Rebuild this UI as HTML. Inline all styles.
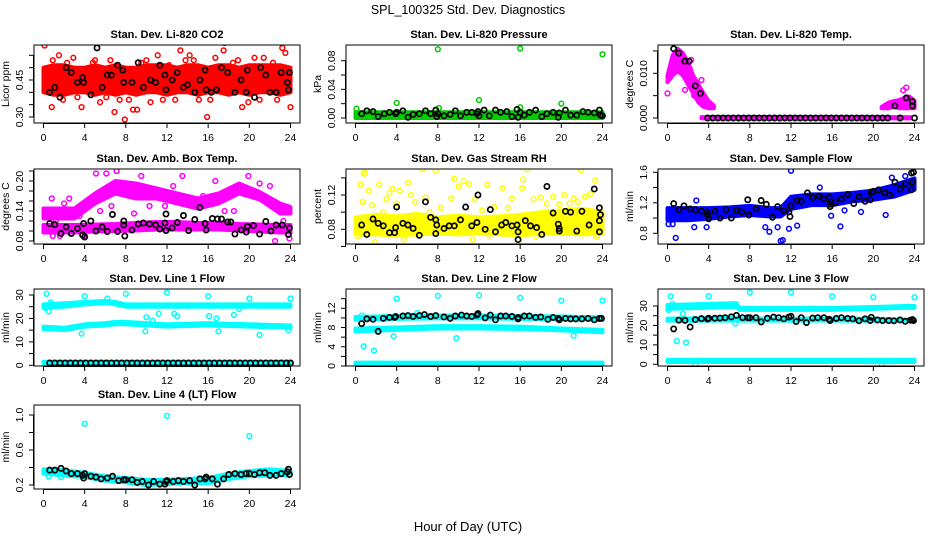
<!DOCTYPE html>
<html><head><meta charset="utf-8"><style>
html,body{margin:0;padding:0;background:#fff;}
svg{display:block;font-family:"Liberation Sans",sans-serif;}
</style></head><body>
<svg id="chart" width="936" height="540" viewBox="0 0 936 540">
<text x="468" y="14" text-anchor="middle" font-size="12.5">SPL_100325  Std. Dev. Diagnostics</text>
<text x="468" y="531" text-anchor="middle" font-size="13">Hour of Day (UTC)</text>
</svg>
<script>
// ---------- data ----------
const xTicks = [0,4,8,12,16,20,24];

// CO2
const co2BandX = [0,1,2,3,4,5,6,7,8,9,10,11,12,13,14,15,16,17,18,19,20,21,22,23,24];
const co2BandLo = [0.40,0.39,0.39,0.40,0.40,0.39,0.40,0.39,0.40,0.39,0.40,0.40,0.39,0.40,0.40,0.39,0.40,0.40,0.39,0.40,0.39,0.40,0.40,0.39,0.40];
const co2BandHi = [0.50,0.51,0.51,0.50,0.50,0.51,0.50,0.51,0.50,0.50,0.51,0.51,0.51,0.50,0.51,0.51,0.50,0.51,0.51,0.50,0.51,0.51,0.51,0.51,0.50];
const co2PtX = [0.1,0.8,2.3,5.5,6.9,7.9,9.1,10.4,11.6,13.3,15.9,17.6,17.5,19.3,23.2,23.5,24,3.7,6.1,8.7,14.2,20.5,1.5,12.2,0.9,2.9,4.8,6.5,8.3,10.0,11.1,13.8,15.1,16.7,18.4,19.9,21.4,22.7,1.9,3.3,5.0,7.4,9.5,12.8,14.6,16.2,18.9,21.0,22.3];
const co2PtY = [0.59,0.34,0.52,0.36,0.32,0.29,0.33,0.36,0.37,0.57,0.30,0.60,0.57,0.34,0.58,0.56,0.34,0.34,0.38,0.33,0.55,0.54,0.55,0.51,0.53,0.54,0.52,0.53,0.37,0.53,0.55,0.53,0.37,0.54,0.52,0.36,0.54,0.37,0.37,0.38,0.53,0.37,0.52,0.37,0.53,0.37,0.53,0.37,0.52];
const co2BlkX = [0.6,1.1,1.6,2.2,2.7,3.3,3.8,3.9,4.6,5.2,5.7,6.2,6.6,7.2,7.7,7.8,8.6,9.2,9.7,10.4,10.9,11.3,11.8,11.9,12.5,13.0,13.6,14.0,14.7,15.2,15.7,15.8,16.3,16.8,17.3,17.9,18.6,19.2,19.7,19.8,20.5,21.1,21.6,22.0,22.6,23.1,23.7,23.8,23.9];
const co2BlkY = [0.40,0.42,0.38,0.50,0.48,0.44,0.46,0.44,0.39,0.58,0.42,0.47,0.47,0.51,0.49,0.44,0.44,0.52,0.42,0.45,0.44,0.51,0.47,0.41,0.45,0.48,0.42,0.43,0.40,0.45,0.49,0.41,0.40,0.41,0.50,0.48,0.40,0.45,0.40,0.49,0.38,0.50,0.47,0.40,0.40,0.48,0.44,0.41,0.48];

// Pressure
const prBandX = [0,24];
const prBandLo = [0.000,0.000];
const prBandHi = [0.008,0.008];
const prPtX = [0.1,4,8,8.1,12,16,16,20,24];
const prPtY = [0.013,0.021,0.096,0.014,0.025,0.097,0.015,0.020,0.089];
const prBlkX = [0.6,1.1,1.7,2.2,2.8,3.3,3.9,4.0,4.6,5.1,5.6,6.2,6.8,7.3,7.8,7.9,8.0,8.6,9.2,9.7,10.2,10.8,11.3,11.8,11.9,12.0,12.5,13.0,13.6,14.1,14.7,15.2,15.7,15.8,16.0,16.4,16.9,17.5,18.1,18.6,19.2,19.7,19.8,20.4,20.9,21.5,22.1,22.6,23.2,23.7,23.8,24];
const prBlkY = [0.006,0.010,0.009,0.002,0.006,0.008,0.006,0.008,0.010,0.001,0.005,0.006,0.010,0.006,0.011,0.002,0.006,0.003,0.005,0.010,0.003,0.008,0.008,0.006,0.009,0.003,0.011,0.003,0.011,0.008,0.009,0.002,0.012,0.001,0.008,0.004,0.008,0.011,0.002,0.006,0.008,0.001,0.007,0.011,0.004,0.004,0.009,0.008,0.007,0.011,0.004,0.003];

// Li-820 Temp
const tpBand1X = [0,0.5,1,1.5,2,2.5,3,3.5,4,4.5];
const tpBand1Lo = [0.0080,0.0095,0.0105,0.0095,0.0075,0.0055,0.0035,0.0025,0.0022,0.0022];
const tpBand1Hi = [0.0095,0.0140,0.0155,0.0145,0.0125,0.0095,0.0075,0.0055,0.0038,0.0028];
const tpBand2X = [3.3,23.6];
const tpBand2Lo = [-0.0001,-0.0001];
const tpBand2Hi = [0.0002,0.0002];
const tpBand3X = [20.8,21.5,22,22.5,23,23.5,24];
const tpBand3Lo = [0.0022,0.0022,0.0025,0.0022,0.0022,0.0022,0.0022];
const tpBand3Hi = [0.0025,0.0035,0.0038,0.0040,0.0045,0.0048,0.0038];
const tpPtX = [0,0.5,1.7,2.3,3.3,2.6,3.8,4.4,23.2,22.9];
const tpPtY = [0.0055,0.012,0.0063,0.013,0.0085,0.005,0.0035,0.0025,0.0068,0.0062];
const tpBlkX = [0.6,1.1,1.7,2.1,2.7,3.2,22.1,23.2,23.8,23.8,3.9,4.4,4.9,5.4,5.9,6.4,6.9,7.4,7.9,8.4,8.9,9.4,9.9,10.4,10.9,11.4,11.9,12.4,12.9,13.4,13.9,14.4,14.9,15.4,15.9,16.4,16.9,17.4,17.9,18.4,18.9,19.4,19.9,20.4,20.9,21.4,22.6,24];
const tpBlkY = [0.0155,0.0145,0.0127,0.0127,0.0072,0.0055,0.0027,0.0045,0.0037,0.0027,0,0,0,0,0,0,0,0,0,0,0,0,0,0,0,0,0,0,0,0,0,0,0,0,0,0,0,0,0,0,0,0,0,0,0,0,0,0];

// Amb box temp
const abBandX = [0,3,5,7,9,11,13,15,17,19,21,23,24];
const abUpLo = [0.125,0.125,0.155,0.175,0.165,0.165,0.155,0.145,0.155,0.175,0.163,0.135,0.135];
const abUpHi = [0.145,0.145,0.175,0.200,0.195,0.185,0.175,0.165,0.175,0.195,0.178,0.155,0.148];
const abLoLo = [0.097,0.097,0.099,0.100,0.101,0.103,0.103,0.103,0.103,0.101,0.099,0.097,0.097];
const abLoHi = [0.112,0.112,0.113,0.114,0.116,0.118,0.118,0.116,0.116,0.114,0.113,0.112,0.112];
const abPtX = [0.3,0.9,1.6,0.8,2.5,5.1,6.1,7.1,13.5,19.9,22.5,23.9,4.0,16.7,21,5.5,8.8,10.3,18.5,1.2,2.0,3.5,6.6,8.2,9.5,11.8,12.6,14.3,15.5,17.6,20.3,22.0,23.3];
const abPtY = [0.14,0.09,0.09,0.165,0.165,0.215,0.215,0.22,0.21,0.21,0.08,0.085,0.09,0.20,0.195,0.14,0.135,0.15,0.14,0.12,0.155,0.13,0.15,0.185,0.21,0.15,0.19,0.16,0.17,0.14,0.18,0.19,0.12];
const abBlkX = [0.6,1.1,1.7,2.2,2.7,3.3,3.8,3.9,4.0,4.6,5.1,5.7,6.2,6.7,7.2,7.8,7.9,7.8,8.6,9.2,9.7,10.3,10.9,11.3,11.8,11.9,11.9,12.5,13.0,13.6,14.1,14.7,15.2,15.7,15.8,16.4,16.9,17.3,17.9,18.2,18.6,19.2,19.7,19.8,20.4,21.0,21.6,22.1,22.6,23.2,23.8,23.9];
const abBlkY = [0.115,0.113,0.095,0.108,0.095,0.105,0.092,0.115,0.088,0.120,0.100,0.108,0.099,0.133,0.099,0.112,0.090,0.120,0.102,0.114,0.116,0.114,0.112,0.104,0.116,0.134,0.101,0.106,0.117,0.131,0.101,0.123,0.147,0.115,0.102,0.125,0.124,0.124,0.118,0.118,0.094,0.102,0.098,0.109,0.111,0.094,0.119,0.100,0.112,0.112,0.093,0.106];

// Gas stream RH
const rhBandX = [0,2,4,6,8,10,12,14,16,18,20,22,24];
const rhBandLo = [0.074,0.074,0.073,0.074,0.075,0.074,0.075,0.074,0.073,0.075,0.075,0.074,0.075];
const rhBandHi = [0.094,0.097,0.095,0.098,0.094,0.096,0.094,0.095,0.097,0.100,0.102,0.104,0.100];
const rhPtX = [0.2,0.5,0.7,0.8,0.9,1.3,1.6,1.9,2.3,2.7,3.0,3.3,3.6,4.0,4.3,4.7,5.1,5.4,5.8,6.5,6.8,7.2,7.8,8.3,9.3,9.6,10,10.5,11.0,11.6,12.3,12.8,13.5,14.3,14.8,15.2,15.8,16.2,16.3,16.7,17.3,18,18.6,19.2,19.8,20.3,20.8,21.2,21.6,21.9,22.3,22.8,23.3,23.6,23.4,17.5,11.4,13.0];
const rhPtY = [0.072,0.132,0.112,0.145,0.146,0.125,0.108,0.065,0.132,0.100,0.115,0.122,0.127,0.110,0.125,0.068,0.134,0.120,0.112,0.150,0.117,0.100,0.148,0.105,0.116,0.139,0.130,0.136,0.133,0.115,0.102,0.132,0.106,0.128,0.105,0.116,0.062,0.128,0.138,0.150,0.115,0.117,0.110,0.118,0.109,0.120,0.110,0.116,0.112,0.149,0.118,0.121,0.137,0.100,0.072,0.072,0.068,0.073];
const rhBlkX = [0.6,1.1,1.7,2.2,2.7,3.3,3.8,3.9,4.0,4.6,5.1,5.6,6.2,6.8,7.3,7.8,7.8,7.9,8.6,9.1,9.6,10.2,10.7,11.3,11.8,11.9,12.6,13.1,13.6,14.2,14.6,15.2,15.7,15.8,15.8,16.5,17.0,17.6,18.1,18.6,19.2,19.7,19.8,19.8,20.4,20.9,21.5,22.0,22.7,23.2,23.7,23.8,23.7,23.7];
const rhBlkY = [0.085,0.074,0.092,0.087,0.084,0.076,0.076,0.082,0.106,0.087,0.085,0.081,0.073,0.112,0.094,0.091,0.075,0.085,0.081,0.084,0.084,0.091,0.106,0.084,0.088,0.120,0.080,0.103,0.077,0.085,0.088,0.084,0.085,0.077,0.068,0.090,0.084,0.082,0.074,0.130,0.099,0.086,0.081,0.078,0.101,0.100,0.078,0.101,0.085,0.127,0.105,0.097,0.090,0.077];

// Sample flow
const sfBandX = [0,2,4,6,8,10,11,12,14,16,18,20,22,24];
const sfBandLo = [0.97,0.97,0.99,1.02,1.04,1.02,1.02,1.12,1.17,1.17,1.22,1.24,1.28,1.37];
const sfBandHi = [1.13,1.13,1.13,1.14,1.16,1.13,1.13,1.28,1.31,1.31,1.33,1.36,1.43,1.52];
const sfPtX = [0.8,2.6,3.8,9.5,9.9,10.7,11.0,11.2,11.8,12.0,12.6,15.9,16.8,17.2,18.8,21.2,21.8,23.1,2.8,0.1,0.5,14.8];
const sfPtY = [0.74,0.88,0.88,0.88,0.82,0.88,0.70,0.71,0.86,1.62,0.90,1.03,0.89,1.10,1.08,1.04,1.53,1.55,1.23,0.92,0.92,1.40];
const sfBlkX = [0.6,1.1,1.6,2.2,2.7,3.3,3.8,3.9,4.0,4.6,5.1,5.7,6.2,6.7,7.2,7.8,7.9,8.6,9.1,9.6,10.2,10.7,11.3,11.8,11.9,12.0,12.6,13.0,13.6,14.1,14.7,15.2,15.7,15.8,15.8,16.3,16.9,17.5,18.1,18.6,19.2,19.7,19.8,20.0,20.5,21.1,21.6,22.1,22.6,23.1,23.7,23.8,23.7,23.9];
const sfBlkY = [1.19,1.11,1.16,1.12,1.11,1.09,1.08,1.04,0.99,1.09,1.00,1.11,1.00,1.10,1.08,1.24,1.04,1.12,1.23,1.18,1.01,1.15,1.10,1.08,1.02,1.16,1.23,1.22,1.33,1.27,1.29,1.25,1.27,1.15,1.18,1.21,1.25,1.31,1.19,1.28,1.22,1.24,1.34,1.35,1.37,1.33,1.30,1.47,1.38,1.45,1.59,1.47,1.37,1.60];

// Line 1 flow
const l1BandX = [0,2,4,6,7,8,12,16,20,24];
const l1UpLo = [24.5,25.0,26.0,26.5,26.0,25.0,25.0,25.0,25.0,25.0];
const l1UpHi = [26.0,26.5,27.0,27.5,27.0,26.0,26.0,26.0,26.0,26.0];
const l1MidLo = [15.5,15.0,16.5,17.0,17.5,17.5,16.5,17.0,16.5,16.0];
const l1MidHi = [16.5,16.0,17.5,18.0,18.5,18.5,17.5,18.0,17.5,17.0];
const l1BotLo = [0.7,0.7,0.7,0.7,0.7,0.7,0.7,0.7,0.7,0.7];
const l1BotHi = [1.5,1.5,1.5,1.5,1.5,1.5,1.5,1.5,1.5,1.5];
const l1PtX = [0.3,4,6.2,8,12,16,20,24,0.2,0.5,3.7,9.9,10,10.6,11.2,12.7,13,16.1,16.8,17,18.5,19,21,23.8,0.7];
const l1PtY = [30.5,29.5,28.5,30.5,31,29.5,28.5,28.5,24.5,23,13.5,14.5,20.5,19,22,22,21,21,20,14.5,21.5,24,13,15,26.8];
const l1BlkX = [0.6,1.1,1.6,2.1,2.6,3.1,3.6,4.1,4.6,5.1,5.6,6.1,6.6,7.1,7.6,8.1,8.6,9.1,9.6,10.1,10.6,11.1,11.6,12.1,12.6,13.1,13.6,14.1,14.6,15.1,15.6,16.1,16.6,17.1,17.6,18.1,18.6,19.1,19.6,20.1,20.6,21.1,21.6,22.1,22.6,23.1,23.6,24];
const l1BlkY = [1,1,1,1,1,1,1,1,1,1,1,1,1,1,1,1,1,1,1,1,1,1,1,1,1,1,1,1,1,1,1,1,1,1,1,1,1,1,1,1,1,1,1,1,1,1,1,1];

// Line 2 flow
const l2BandX = [0,4,8,12,16,20,24];
const l2UpLo = [9.6,9.8,9.9,9.9,9.8,9.7,9.6];
const l2UpHi = [10.2,10.4,10.5,10.5,10.4,10.3,10.1];
const l2MidLo = [7.2,7.5,7.8,7.8,7.7,7.4,7.0];
const l2MidHi = [7.8,8.0,8.3,8.3,8.2,7.8,7.5];
const l2BotLo = [0.3,0.3,0.3,0.3,0.3,0.3,0.3];
const l2BotHi = [0.7,0.7,0.7,0.7,0.7,0.7,0.7];
const l2PtX = [4,8,12,16,20,24,3.7,9.8,0.8,1.8,21.2,6,0.6];
const l2PtY = [14,14.6,14.7,14.2,13.6,13.6,6.2,5.8,4.1,3.2,6.3,11,10.5];
const l2BlkX = [0.6,1.1,1.7,2.2,2.7,3.3,3.8,3.9,4.6,5.1,5.6,6.2,6.7,7.3,7.8,8.6,9.2,9.7,10.3,10.8,11.3,11.8,11.9,12.6,13.1,13.6,14.1,14.6,15.2,15.8,15.8,16.4,16.9,17.5,18.0,18.7,19.2,19.7,19.8,20.4,20.9,21.4,22.0,22.6,23.2,23.7,23.9];
const l2BlkY = [8.8,9.8,9.7,7.2,9.9,10.1,10.1,10.3,10.4,10.5,10.3,10.5,10.7,10.3,10.5,10.2,9.9,10.4,10.6,10.4,10.3,10.6,10.9,10.0,10.6,9.6,10.4,10.4,10.3,10.1,9.8,10.4,10.4,10.1,10.2,9.7,10.1,9.9,9.6,9.9,9.8,9.8,9.8,9.9,9.6,9.9,9.9];

// Line 3 flow
const l3BandX = [0,6.7,7,12,16,20,23,24];
const l3UpLo = [28.5,29.5,28.0,28.0,28.0,28.5,29.0,29.0];
const l3UpHi = [30.5,31.5,29.0,29.0,29.0,29.5,30.0,30.0];
const l3MidLo = [22.5,22.5,22.5,22.5,22.5,22.5,22.5,22.5];
const l3MidHi = [23.5,24.0,23.5,23.5,23.5,23.5,23.0,23.0];
const l3BotLo = [1.2,1.2,1.2,1.2,1.2,1.2,1.2,1.2];
const l3BotHi = [2.3,2.3,2.3,2.3,2.3,2.3,2.3,2.3];
const l3PtX = [0.3,4,8,12,16,20,24,0.9,1.8,0.5,6.6,2.7,20.8,0.1,1.5];
const l3PtY = [35,35,37,37,35,34.5,34.5,12,11.2,31,21,0,-0.5,28,26];
const l3BlkX = [0.6,1.1,1.7,2.2,2.7,3.3,3.9,4.0,4.6,5.1,5.6,6.2,6.7,7.3,7.8,8.0,8.6,9.1,9.7,10.3,10.8,11.3,11.8,12.0,12.5,13.0,13.5,14.1,14.6,15.2,15.7,15.8,16.4,16.9,17.5,18.0,18.6,19.2,19.7,19.8,20.4,20.9,21.5,22.0,22.6,23.1,23.6,23.8,23.9];
const l3BlkY = [18.2,22.7,22.6,19.2,23,23.5,23.3,23.7,23.7,23.8,24,24.4,25.2,24,24,24,24,21.8,23.7,24.3,24,23.4,24.3,24.7,22,24,21.5,23.8,24,24,23.2,22.5,23.6,24,23.6,23.4,22.4,23.4,22.5,24.2,22.8,22.5,22.5,22.4,22.8,22.1,22.7,23,22.5];

// Line 4 flow
const l4BandX = [0,2,4,6,8,10,12,14,16,18,20,22,24];
const l4BandLo = [0.33,0.31,0.29,0.25,0.23,0.20,0.21,0.22,0.22,0.27,0.30,0.31,0.31];
const l4BandHi = [0.38,0.37,0.34,0.30,0.28,0.26,0.26,0.27,0.28,0.33,0.36,0.38,0.36];
const l4PtX = [4,12,20,0.5,1.7];
const l4PtY = [0.90,0.99,0.76,0.30,0.29];
const l4BlkX = [0.6,1.1,1.7,2.2,2.7,3.3,3.8,3.9,4.0,4.6,5.1,5.6,6.2,6.7,7.3,7.8,8.0,8.6,9.1,9.6,10.2,10.7,11.3,11.8,11.9,12.0,12.6,13.1,13.6,14.2,14.7,15.2,15.7,15.8,16.4,16.9,17.5,18.0,18.6,19.2,19.7,20.0,20.5,21.0,21.5,22.0,22.6,23.1,23.7,23.8,23.9];
const l4BlkY = [0.37,0.37,0.39,0.36,0.33,0.33,0.31,0.28,0.33,0.30,0.29,0.27,0.28,0.30,0.25,0.26,0.26,0.26,0.23,0.24,0.20,0.24,0.21,0.21,0.24,0.25,0.24,0.25,0.24,0.25,0.20,0.27,0.27,0.29,0.27,0.21,0.27,0.32,0.33,0.32,0.33,0.33,0.32,0.34,0.34,0.31,0.31,0.33,0.35,0.38,0.32];

// ---------- panel definitions ----------
const panels = [
 {name:'co2',title:'Stan. Dev. Li-820 CO2',ylab:'Licor ppm',col:0,row:0,color:'#ff0000',
  ya:[0.30,117,0.45,80],ticks:[0.30,0.35,0.40,0.45,0.50,0.55],labels:[0.30,0.45],fmt:2,
  bands:[[co2BandX,co2BandLo,co2BandHi]],px:co2PtX,py:co2PtY,bx:co2BlkX,by:co2BlkY},
 {name:'pressure',title:'Stan. Dev. Li-820 Pressure',ylab:'kPa',col:1,row:0,color:'#00cc00',
  ya:[0,118,0.08,60.7],ticks:[0,0.02,0.04,0.06,0.08],labels:[0,0.04,0.08],fmt:2,
  bands:[[prBandX,prBandLo,prBandHi]],px:prPtX,py:prPtY,bx:prBlkX,by:prBlkY},
 {name:'li820-temp',title:'Stan. Dev. Li-820 Temp.',ylab:'degrees C',col:2,row:0,color:'#ff00ff',
  ya:[0,118,0.010,73.3],ticks:[0,0.005,0.010,0.015],labels:[0,0.010],fmt:3,
  bands:[[tpBand1X,tpBand1Lo,tpBand1Hi],[tpBand2X,tpBand2Lo,tpBand2Hi],[tpBand3X,tpBand3Lo,tpBand3Hi]],px:tpPtX,py:tpPtY,bx:tpBlkX,by:tpBlkY},
 {name:'amb-box-temp',title:'Stan. Dev. Amb. Box Temp.',ylab:'degrees C',col:0,row:1,color:'#ff00ff',
  ya:[0.08,241,0.20,181],ticks:[0.08,0.10,0.12,0.14,0.16,0.18,0.20,0.22],labels:[0.08,0.14,0.20],fmt:2,
  bands:[[abBandX,abUpLo,abUpHi],[abBandX,abLoLo,abLoHi]],px:abPtX,py:abPtY,bx:abBlkX,by:abBlkY},
 {name:'gas-stream-rh',title:'Stan. Dev. Gas Stream RH',ylab:'percent',col:1,row:1,color:'#ffff00',
  ya:[0.08,229.3,0.12,195],ticks:[0.06,0.08,0.10,0.12,0.14],labels:[0.08,0.12],fmt:2,
  bands:[[rhBandX,rhBandLo,rhBandHi]],px:rhPtX,py:rhPtY,bx:rhBlkX,by:rhBlkY},
 {name:'sample-flow',title:'Stan. Dev. Sample Flow',ylab:'ml/min',col:2,row:1,color:'#0000ff',
  ya:[0.8,233.3,1.6,172.3],ticks:[0.8,1.0,1.2,1.4,1.6],labels:[0.8,1.2,1.6],fmt:1,
  bands:[[sfBandX,sfBandLo,sfBandHi]],px:sfPtX,py:sfPtY,bx:sfBlkX,by:sfBlkY},
 {name:'line1-flow',title:'Stan. Dev. Line 1 Flow',ylab:'ml/min',col:0,row:2,color:'#00ffff',
  ya:[0,365.3,30,295],ticks:[0,5,10,15,20,25,30],labels:[0,10,20,30],fmt:0,
  bands:[[l1BandX,l1UpLo,l1UpHi],[l1BandX,l1MidLo,l1MidHi],[l1BandX,l1BotLo,l1BotHi]],px:l1PtX,py:l1PtY,bx:l1BlkX,by:l1BlkY},
 {name:'line2-flow',title:'Stan. Dev. Line 2 Flow',ylab:'ml/min',col:1,row:2,color:'#00ffff',
  ya:[0,366,12,308.3],ticks:[0,2,4,6,8,10,12,14],labels:[0,4,8,12],fmt:0,
  bands:[[l2BandX,l2UpLo,l2UpHi],[l2BandX,l2MidLo,l2MidHi],[l2BandX,l2BotLo,l2BotHi]],px:l2PtX,py:l2PtY,bx:l2BlkX,by:l2BlkY},
 {name:'line3-flow',title:'Stan. Dev. Line 3 Flow',ylab:'ml/min',col:2,row:2,color:'#00ffff',
  ya:[0,364.3,30,306],ticks:[0,5,10,15,20,25,30],labels:[0,10,20,30],fmt:0,
  bands:[[l3BandX,l3UpLo,l3UpHi],[l3BandX,l3MidLo,l3MidHi],[l3BandX,l3BotLo,l3BotHi]],px:l3PtX,py:l3PtY,bx:l3BlkX,by:l3BlkY},
 {name:'line4-flow',title:'Stan. Dev. Line 4 (LT) Flow',ylab:'ml/min',col:0,row:3,color:'#00ffff',
  ya:[0.2,485,1.0,415],ticks:[0.2,0.4,0.6,0.8,1.0],labels:[0.2,0.6,1.0],fmt:1,
  bands:[[l4BandX,l4BandLo,l4BandHi]],px:l4PtX,py:l4PtY,bx:l4BlkX,by:l4BlkY}
];

const colLeft = [34,346,658];
const rowBox = [[45,123],[169,244],[289,366],[405,489]];
const NS = 'http://www.w3.org/2000/svg';
const svg = document.getElementById('chart');
function mk(tag, attrs, parent){
  const e = document.createElementNS(NS, tag);
  for (const k in attrs) e.setAttribute(k, attrs[k]);
  (parent||svg).appendChild(e);
  return e;
}

panels.forEach(p => {
  const L = colLeft[p.col];
  const T = rowBox[p.row][0], B = rowBox[p.row][1];
  const xs = h => L + 9.5 + h * (247 / 24);
  const k = (p.ya[3] - p.ya[1]) / (p.ya[2] - p.ya[0]);
  const ys = v => p.ya[1] + (v - p.ya[0]) * k;

  const g = mk('g', {});
  
  
  const clipId = 'clip-' + p.name;
  const cp = mk('clipPath', {id: clipId}, g);
  mk('rect', {x: L, y: T, width: 266, height: B - T}, cp);

  const plot = mk('g', {'clip-path': 'url(#' + clipId + ')'}, g);
  
  

  p.bands.forEach(b => {
    const [bx, lo, hi] = b;
    let pts = [];
    for (let i = 0; i < bx.length; i++) pts.push(xs(bx[i]).toFixed(1) + ',' + ys(hi[i]).toFixed(1));
    for (let i = bx.length - 1; i >= 0; i--) pts.push(xs(bx[i]).toFixed(1) + ',' + ys(lo[i]).toFixed(1));
    const poly = mk('polygon', {points: pts.join(' '), fill: p.color, stroke: p.color, 'stroke-width': 4, 'stroke-linejoin': 'round'}, plot);
    
    
  });
  p.px.forEach((x, i) => {
    const c = mk('circle', {cx: xs(x), cy: ys(p.py[i]), r: 2.4, fill: 'none', stroke: p.color, 'stroke-width': 1.5}, plot);
    
    
  });
  p.bx.forEach((x, i) => {
    const c = mk('circle', {cx: xs(x), cy: ys(p.by[i]), r: 2.6, fill: 'none', stroke: '#000', 'stroke-width': 1.7}, plot);
    
    
  });

  const box = mk('rect', {x: L, y: T, width: 266, height: B - T, fill: 'none', stroke: '#000', 'stroke-width': 1}, g);
  
  

  const xa = mk('g', {}, g);
  
  
  mk('line', {x1: xs(xTicks[0]), x2: xs(xTicks[xTicks.length - 1]), y1: B + 0.5, y2: B + 0.5, stroke: '#000'}, xa);
  xTicks.forEach(t => {
    mk('line', {x1: xs(t), x2: xs(t), y1: B, y2: B + 5, stroke: '#000'}, xa);
    const tx = mk('text', {x: xs(t), y: B + 18, 'text-anchor': 'middle', 'font-size': 10.5}, xa);
    tx.textContent = t;
  });

  const ya = mk('g', {}, g);
  
  
  mk('line', {x1: L - 0.5, x2: L - 0.5, y1: ys(p.ticks[0]), y2: ys(p.ticks[p.ticks.length - 1]), stroke: '#000'}, ya);
  p.ticks.forEach(t => {
    mk('line', {x1: L - 5, x2: L, y1: ys(t), y2: ys(t), stroke: '#000'}, ya);
  });
  p.labels.forEach(t => {
    const yy = ys(t);
    const tx = mk('text', {x: L - 11, y: yy, 'text-anchor': 'middle', 'font-size': 10.5, transform: 'rotate(-90 ' + (L - 11) + ' ' + yy + ')'}, ya);
    tx.textContent = t.toFixed(p.fmt);
  });
  const ym = (T + B) / 2;
  const yt = mk('text', {x: L - 25, y: ym, 'text-anchor': 'middle', 'font-size': 10.5, transform: 'rotate(-90 ' + (L - 25) + ' ' + ym + ')'}, g);
  yt.textContent = p.ylab;
  
  

  const tt = mk('text', {x: L + 133, y: T - 7, 'text-anchor': 'middle', 'font-size': 11, 'font-weight': 'bold'}, g);
  tt.textContent = p.title;
  
  
});
</script>
</body></html>
